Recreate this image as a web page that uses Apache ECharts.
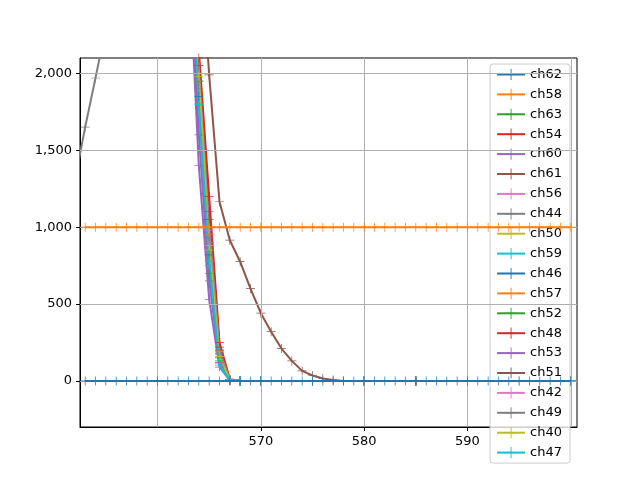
<!DOCTYPE html>
<html><head><meta charset="utf-8">
<script src="https://cdn.jsdelivr.net/npm/echarts@6/dist/echarts.min.js"></script>
<style>html,body{margin:0;padding:0;background:#fff}#c{width:640px;height:480px}</style>
</head><body><div id="c"></div>
<script>
const names = ['ch62','ch58','ch63','ch54','ch60','ch61','ch56','ch44','ch50','ch59','ch46','ch57','ch52','ch48','ch53','ch51','ch42','ch49','ch40','ch47'];
const colors = ['#1f77b4','#ff7f0e','#2ca02c','#d62728','#9467bd','#8c564b','#e377c2','#7f7f7f','#bcbd22','#17becf'];
const xTicks = [560,570,580,590,600];
const yTicks = [0,500,1000,1500,2000];
const fullX = [553,554,555,556,557,558,559,560,561,562,563,564,565,566,567,568,569,570,571,572,573,574,575,576,577,578,579,580,581,582,583,584,585,586,587,588,589,590,591,592,593,594,595,596,597,598,599,600];
const steepX = [561,562,563,564,565,566,567,568,570,575,580,585,590,595,600];
const ch62 = [0,0,0,0,0,0,0,0,0,0,0,0,0,0,0,0,0,0,0,0,0,0,0,0,0,0,0,0,0,0,0,0,0,0,0,0,0,0,0,0,0,0,0,0,0,0,0,0];
const ch58 = [1000,1000,1000,1000,1000,1000,1000,1000,1000,1000,1000,1000,1000,1000,1000,1000,1000,1000,1000,1000,1000,1000,1000,1000,1000,1000,1000,1000,1000,1000,1000,1000,1000,1000,1000,1000,1000,1000,1000,1000,1000,1000,1000,1000,1000,1000,1000,1000];
const ch61X = [562,563,564,565,566,567,568,569,570,571,572,573,574,575,576,577,578,580,585,590,595,600];
const ch61 = [5000,4000,3000,1990,1165,915,775,600,440,320,210,130,65,35,15,5,0,0,0,0,0,0];
const ch44X = [552,553,554,555,556,558,560,562,563,564,565,566,567,568,575,580,590,600];
const ch44 = [1300,1650,1970,2300,2600,2900,3000,3000,2900,1900,900,120,5,0,0,0,0,0];
const steep = {
  ch63: [6000,4500,3200,2000,700,130,5,0,0,0,0,0,0,0,0],
  ch54: [6000,4500,3300,2150,1200,250,10,0,0,0,0,0,0,0,0],
  ch60: [5500,4000,2800,1400,530,90,3,0,0,0,0,0,0,0,0],
  ch56: [6000,4500,3250,2050,900,180,8,0,0,0,0,0,0,0,0],
  ch50: [6000,4500,3200,1950,850,160,6,0,0,0,0,0,0,0,0],
  ch59: [5800,4200,3000,1800,750,100,4,0,0,0,0,0,0,0,0],
  ch46: [5900,4300,3100,1850,820,150,5,0,0,0,0,0,0,0,0],
  ch57: [6000,4500,3200,2000,950,200,6,0,0,0,0,0,0,0,0],
  ch52: [6000,4400,3150,1950,1000,180,5,0,0,0,0,0,0,0,0],
  ch48: [6000,4500,3300,2100,1100,220,8,0,0,0,0,0,0,0,0],
  ch53: [5700,4100,2900,1600,650,120,4,0,0,0,0,0,0,0,0],
  ch51: [6000,4500,3250,2050,1050,200,6,0,0,0,0,0,0,0,0],
  ch42: [6000,4450,3200,2000,980,190,6,0,0,0,0,0,0,0,0],
  ch49: [6000,4400,3150,1950,930,170,5,0,0,0,0,0,0,0,0],
  ch40: [6000,4450,3200,1980,880,160,5,0,0,0,0,0,0,0,0],
  ch47: [5900,4300,3050,1800,780,110,4,0,0,0,0,0,0,0,0]
};
const cross = 'path://M-0.08,-1H0.08V-0.08H1V0.08H0.08V1H-0.08V0.08H-1V-0.08H-0.08Z';
function zip(xs, ys){return xs.map((x,i)=>[x,ys[i]]);}
const seriesData = {ch62: zip(fullX,ch62), ch58: zip(fullX,ch58), ch61: zip(ch61X,ch61), ch44: zip(ch44X,ch44)};
for (const k in steep) seriesData[k] = zip(steepX, steep[k]);
const series = names.map((n,i)=>({
  name:n, type:'line', data:seriesData[n], symbol:cross, symbolSize:9, showSymbol:true,
  lineStyle:{width:2, color:colors[i%10]}, itemStyle:{color:colors[i%10]},
  z: (n==='ch62'||n==='ch58')?5:3, animation:false
}));
series.push({type:'line', data:[], silent:true, z:1,
  markLine:{silent:true, symbol:'none', label:{show:false}, animation:false,
    lineStyle:{color:'#b0b0b0', width:1, type:'solid'},
    data: xTicks.map(v=>({xAxis:v})).concat(yTicks.map(v=>({yAxis:v})))}});
const chart = echarts.init(document.getElementById('c'));
chart.setOption({
  animation:false,
  grid:{left:80,right:63,top:58,bottom:53,show:true,borderColor:'#000',borderWidth:1,backgroundColor:'#fff'},
  xAxis:{type:'value',min:552.5,max:600.6,
    axisLabel:{color:'#000',fontSize:13,fontFamily:'DejaVu Sans',customValues:xTicks,showMinLabel:false,showMaxLabel:false},
    axisTick:{show:true,length:4,lineStyle:{color:'#000'},customValues:xTicks},
    axisLine:{onZero:false,lineStyle:{color:'#000'}},
    splitLine:{show:false}},
  yAxis:{type:'value',min:-300,max:2100,
    axisLabel:{color:'#000',fontSize:13,fontFamily:'DejaVu Sans',customValues:yTicks},
    axisTick:{show:true,length:4,lineStyle:{color:'#000'},customValues:yTicks},
    axisLine:{lineStyle:{color:'#000'}},
    splitLine:{show:false}},
  legend:{orient:'vertical',right:70,top:64,itemGap:6.9,itemWidth:28,itemHeight:14,
    textStyle:{fontSize:13,fontFamily:'DejaVu Sans',color:'#000'},
    backgroundColor:'rgba(255,255,255,0.8)',borderColor:'#ccc',borderWidth:1,borderRadius:3,padding:[4,8,4,6],
    data:names},
  series:series
});
</script></body></html>
